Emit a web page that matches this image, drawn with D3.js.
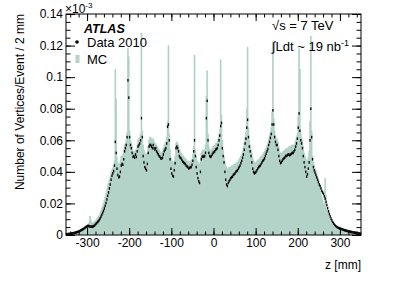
<!DOCTYPE html>
<html lang="en">
<head>
<meta charset="UTF-8">
<script src="https://d3js.org/d3.v7.min.js"></script>
<style>
  body { margin: 0; background: #fff; }
  text { font-family: "Liberation Sans", Arial, sans-serif; }
</style>
</head>
<body>
<div id="chart"></div>
<script>
// bins: 2 mm wide, from -350 to 350 mm
var zMin = -350, zMax = 350, binW = 2

// values in units of 1e-3 of the axis (axis itself is x10^-3)
var mcVals = [
  0.4,0.5,0.5,0.6,0.7,0.8,0.9,1.0,1.1,1.2,
  1.3,1.4,1.6,1.8,2.0,2.2,2.5,2.8,3.1,3.4,
  3.8,4.3,4.8,5.4,6.0,6.6,7.2,8.0,12.0,9.5,
  8.0,7.6,7.8,8.2,8.8,9.4,10.0,10.8,11.6,12.5,
  14,15.5,17,18.5,20,22,24,26.5,29,31.5,
  33,35,37,39.5,41,42.5,44,47,105,86,
  49,46,45,45,47,50,50,51,54,57,
  58,60,65,118,113,66,60,58,56,53,
  53,52,54,54,57,60,61,62,64,128,
  66,57,54,52,51,51,52,56,60,62,
  62,61,60,61,59,58,58,57,56,55,
  54,53,52,52,53,55,57,58,59,62,
  72,120,64,54,49,47,46,46,47,50,
  58,59,58,57,54,53,52,51,50,50,
  49,48.5,48,47,47,46,46,47,47,48,
  51,56,114,54,50,47,46,45,45,47,
  52,53,54,53,54,57,88,104,64,56,
  54,53.5,54,55,56,56,57,58,58,59,
  61,64,67,111,76,60,54,50,46,44,
  43,42,42,43,43,43,44,44,44,45,
  45,45,46,46,47,48,49,50,51,53,
  55,58,62,65,80,119,68,60,57,54,
  52,49,47,46,46,46,47,47,48,48,
  49,50,50,51,52,53,54,55,57,58,
  61,63,65,68,78,122,74,66,63,61,
  61,59,56,53,52,52,52,53,53,54,
  54,55,55,55,56,56,56,57,57,57,
  57,58,60,62,64,75,118,105,64,62,
  60,56,52,50,48,47,47,49,53,72,
  126,66,50,46,44,42,41,39,37,35,
  33,30,27,24,22,20,19,36,25,17,
  15,13,11,9.5,8.2,7,6,5.2,4.6,4.1,
  3.7,3.4,3.1,2.9,2.7,2.5,2.3,2.2,2.0,1.9,
  1.8,1.7,1.6,1.5,1.4,1.3,1.2,1.1,1.0,1.0,
  0.9,0.9,0.8,0.8,0.7,0.7,0.6,0.6,0.5,0.5
]

var dataVals = [
  0.5,0.5,0.6,0.6,0.7,0.8,0.9,1.0,1.1,1.3,
  1.4,1.5,1.7,1.9,2.1,2.3,2.6,2.9,3.2,3.5,
  3.8,4.2,4.6,5.0,5.3,5.6,5.7,5.6,5.4,5.3,
  5.2,5.3,5.5,5.9,6.4,7.0,7.6,8.2,8.8,9.5,
  10.5,11.5,12.8,14.0,15.3,16.8,18.5,20.3,22.5,24.8,
  27,29.5,32,35,37.5,39,40.5,44,59,52,
  42,38,36.5,37,40,44,45,44.5,48,53,
  55,57,62,98,87,62,57,55,52,49.5,
  50,49,51,49.5,53,56,57,58,60,74,
  62,50,46,43,42,41,45,52,56,57,
  57,56,55,57,55,54,55,53,52,51,
  50,49.5,48.5,48.5,49,51,53,54,55,58,
  68.6,70,60,48,42,39,37.5,37,41,45.5,
  55,56,55,53,50,49,48.5,47.5,46.5,46,
  45.5,45,44,43.5,43,42,42.5,43,43,44.5,
  47,53,60,50,43,39,36,34,33,40,
  48,49.5,50,49.5,50,52,74,85,60,52,
  50,49.5,50,51,52,52.5,53,54,54.5,55,
  57,60,63,69,71,55,50,46,40,35,
  32,31,33,34,35,36,36.5,37,38,38.5,
  39,40,40.5,41,42,43,44,45.5,47,49,
  51,54,58,61,68,73,62,56,53,50,
  46,42,40,39,39.5,40,41,42,43,43.5,
  44,45,46,47,47.5,48.5,50,51.5,53,54.5,
  57,59,61.5,64,70,79,70,62,59,57,
  57,54,50,47,45.5,46,47,48,48.5,49,
  50,50,50.5,51,51,50.5,51,51.5,52,52,
  53,54,56,58,61,68,77,66,60,58,
  55,50,46,43,40,37,38.5,42,46,60,
  80,62,48,43,41,39.5,38,36.5,35,33.5,
  32,31,29.5,28,27,26,24.5,23,21,19,
  17,15,13.3,11.8,10.4,9.2,8.2,7.3,6.5,5.9,
  5.4,5.0,4.7,4.4,4.2,4.0,3.8,3.6,3.4,3.2,
  3.0,2.9,2.7,2.6,2.4,2.3,2.2,2.0,1.9,1.8,
  1.7,1.6,1.5,1.4,1.3,1.2,1.1,1.0,0.9,0.8
]

var xTicks = [-300, -200, -100, 0, 100, 200, 300]
var yTicks = [0, 0.02, 0.04, 0.06, 0.08, 0.1, 0.12, 0.14]
var yTickLabels = ["0", "0.02", "0.04", "0.06", "0.08", "0.1", "0.12", "0.14"]

var width = 415, height = 281
var pL = 66, pR = 361, pT = 14, pB = 235
var mcColor = "#b3d3c8"

var svg = d3.select("#chart").append("svg")
    .attr("width", width)
    .attr("height", height)

var x = d3.scaleLinear().domain([zMin, zMax]).range([pL, pR])
var y = d3.scaleLinear().domain([0, 0.14]).range([pB, pT])

var bins = mcVals.map(function(v, i) {
    return { lo: zMin + i*binW, mid: zMin + i*binW + binW/2, mc: v/1000, data: dataVals[i]/1000 }
})

// MC histogram as a step area
var stepPts = bins.map(function(d) { return [d.lo, d.mc] })
stepPts.push([zMax, bins[bins.length-1].mc])

var area = d3.area()
    .curve(d3.curveStepAfter)
    .x(function(d) { return x(d[0]) })
    .y0(y(0))
    .y1(function(d) { return y(d[1]) })

var line = d3.line()
    .curve(d3.curveStepAfter)
    .x(function(d) { return x(d[0]) })
    .y(function(d) { return y(d[1]) })

svg.append("path")
    .attr("d", area(stepPts))
    .attr("fill", mcColor)

svg.append("path")
    .attr("d", line(stepPts))
    .attr("fill", "none")
    .attr("stroke", "#a5cbbd")
    .attr("stroke-width", 0.6)

// data points with small error bars
svg.append("g").selectAll("rect")
    .data(bins)
    .enter()
    .append("rect")
    .attr("x", function(d) { return x(d.mid) - 0.65 })
    .attr("y", function(d) { return y(d.data) - 1.3 })
    .attr("width", 1.3)
    .attr("height", 2.6)
    .attr("fill", "black")

// axes (ROOT style ticks on all four sides)
function minorRange(a, b, s) { return d3.range(a, b + s/2, s) }
var xMinor = minorRange(-340, 340, 20)
var yMinor = minorRange(0, 0.14, 0.005)

function noDomain(g) { g.select(".domain").remove() }

svg.append("g")
    .attr("transform", "translate(0," + pB + ")")
    .call(d3.axisBottom(x).tickValues(xMinor).tickFormat("").tickSize(-3.5))
    .call(noDomain)
svg.append("g")
    .attr("transform", "translate(0," + pB + ")")
    .call(d3.axisBottom(x).tickValues(xTicks).tickSize(-7).tickPadding(3)
        .tickFormat(function(d) { return String(d) }))
    .call(noDomain)
svg.append("g")
    .attr("transform", "translate(0," + pT + ")")
    .call(d3.axisTop(x).tickValues(xMinor).tickFormat("").tickSize(-3.5))
    .call(noDomain)
svg.append("g")
    .attr("transform", "translate(0," + pT + ")")
    .call(d3.axisTop(x).tickValues(xTicks).tickFormat("").tickSize(-7))
    .call(noDomain)

svg.append("g")
    .attr("transform", "translate(" + pL + ",0)")
    .call(d3.axisLeft(y).tickValues(yMinor).tickFormat("").tickSize(-4.5))
    .call(noDomain)
svg.append("g")
    .attr("transform", "translate(" + pL + ",0)")
    .call(d3.axisLeft(y).tickValues(yTicks).tickSize(-9).tickPadding(3)
        .tickFormat(function(d, i) { return yTickLabels[i] }))
    .call(noDomain)
svg.append("g")
    .attr("transform", "translate(" + pR + ",0)")
    .call(d3.axisRight(y).tickValues(yMinor).tickFormat("").tickSize(-4.5))
    .call(noDomain)
svg.append("g")
    .attr("transform", "translate(" + pR + ",0)")
    .call(d3.axisRight(y).tickValues(yTicks).tickFormat("").tickSize(-9))
    .call(noDomain)

svg.selectAll(".tick text")
    .attr("font-family", "Liberation Sans, Arial, sans-serif")
    .attr("font-size", 12)
    .attr("fill", "black")
svg.selectAll(".tick line").attr("stroke", "black")

svg.append("rect")
    .attr("x", pL).attr("y", pT)
    .attr("width", pR - pL).attr("height", pB - pT)
    .attr("fill", "none").attr("stroke", "black").attr("stroke-width", 1)

// exponent label
var ex = svg.append("text").attr("x", 65).attr("y", 13).attr("font-size", 12)
ex.append("tspan").text("×10")
ex.append("tspan").attr("font-size", 8).attr("dy", -5).text("-3")

// axis titles
svg.append("text")
    .attr("transform", "translate(24," + pT + ") rotate(-90)")
    .attr("text-anchor", "end")
    .attr("font-size", 12)
    .text("Number of Vertices/Event / 2 mm")

svg.append("text")
    .attr("x", pR).attr("y", 269)
    .attr("text-anchor", "end")
    .attr("font-size", 12)
    .text("z [mm]")

// legend
svg.append("text")
    .attr("x", 84).attr("y", 33)
    .attr("font-size", 12.5)
    .attr("font-weight", "bold")
    .attr("font-style", "italic")
    .text("ATLAS")
svg.append("circle").attr("cx", 77).attr("cy", 42).attr("r", 1.8).attr("fill", "black")
svg.append("text").attr("x", 87).attr("y", 47).attr("font-size", 13).text("Data 2010")
svg.append("rect").attr("x", 75.5).attr("y", 55).attr("width", 4).attr("height", 8).attr("fill", mcColor)
svg.append("text").attr("x", 87).attr("y", 64).attr("font-size", 13).text("MC")

svg.append("text").attr("x", 272).attr("y", 30).attr("font-size", 13).text("√s = 7 TeV")
var lum = svg.append("text").attr("x", 272).attr("y", 51).attr("font-size", 13)
lum.append("tspan").text("∫Ldt ~ 19 nb")
lum.append("tspan").attr("font-size", 9).attr("dy", -5).text("-1")
</script>
</body>
</html>
